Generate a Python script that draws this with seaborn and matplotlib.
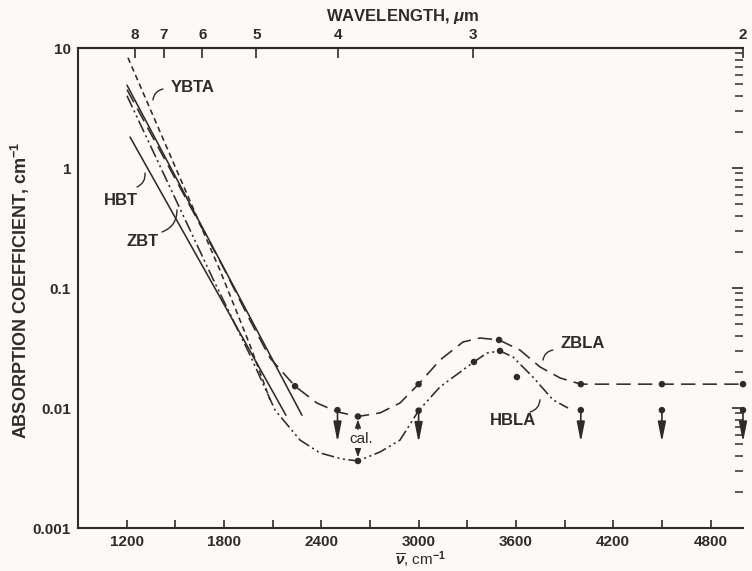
import numpy as np
import pandas as pd
import matplotlib
matplotlib.use("Agg")
import matplotlib.pyplot as plt
import seaborn as sns
from matplotlib.ticker import FixedLocator, FixedFormatter, NullFormatter

# ---- absorption coefficient (cm^-1) versus wavenumber (cm^-1) ----
ybta_nu = [1208, 1775, 1960, 2084]
ybta_k = [8.3, 0.141, 0.0335, 0.0117]

zbt_nu = [1202, 2281]
zbt_k = [4.9, 0.0087]

hbt_nu = [1221, 1775, 2182]
hbt_k = [1.81, 0.084, 0.0087]

zbla_nu = [1202, 1794, 1960, 2084, 2238, 2373, 2497, 2626, 2762, 2885, 3000,
           3132, 3274, 3378, 3496, 3625, 3748, 3872, 4000, 4500, 5000]
zbla_k = [4.5, 0.150, 0.054, 0.0261, 0.0152, 0.0110, 0.0093, 0.0085, 0.0091,
          0.0110, 0.0158, 0.0251, 0.0355, 0.0383, 0.0369, 0.0304, 0.0220,
          0.0178, 0.0158, 0.0158, 0.0158]

hbla_nu = [1202, 1726, 1960, 2115, 2269, 2392, 2528, 2626, 2762, 2885, 3000,
           3132, 3341, 3421, 3502, 3582, 3705, 3828, 3921]
hbla_k = [4.0, 0.124, 0.0277, 0.0096, 0.0054, 0.00422, 0.00376, 0.00362,
          0.0043, 0.0054, 0.0095, 0.0150, 0.0242, 0.0287, 0.0299, 0.0266,
          0.0181, 0.0117, 0.0100]

# measured points
zbla_pt_nu = [2238, 2626, 3000, 3496, 4000, 4500, 5000]
zbla_pt_k = [0.0152, 0.0085, 0.0158, 0.0369, 0.0158, 0.0158, 0.0158]
hbla_pt_nu = [2626, 3341, 3502, 3606]
hbla_pt_k = [0.00362, 0.0242, 0.0299, 0.0181]
# upper limits (arrows pointing down)
limit_nu = [2500, 3000, 4000, 4500, 5000]
limit_k = [0.0096, 0.0095, 0.0096, 0.0096, 0.0096]

# axis ticks
nu_ticks = [1200, 1500, 1800, 2100, 2400, 2700, 3000, 3300, 3600, 3900, 4200, 4500, 4800]
nu_labels = [1200, 1800, 2400, 3000, 3600, 4200, 4800]
k_ticks = [0.001, 0.01, 0.1, 1, 10]
k_labels = ["0.001", "0.01", "0.1", "1", "10"]
wavelengths = [8, 7, 6, 5, 4, 3, 2]

ink = "#2d2c2a"
paper = "#fbfaf6"

sns.set_theme(style="white", rc={"axes.facecolor": paper, "figure.facecolor": paper})
plt.rcParams["font.family"] = ["Liberation Sans", "DejaVu Sans"]
plt.rcParams["mathtext.fontset"] = "custom"
plt.rcParams["mathtext.rm"] = "Liberation Sans:bold"
plt.rcParams["mathtext.it"] = "Liberation Sans:italic:bold"
plt.rcParams["mathtext.bf"] = "Liberation Sans:bold"

fig = plt.figure(figsize=(7.52, 5.71), dpi=100)
ax = fig.add_axes([78 / 752, 43 / 571, 665 / 752, 480 / 571])

curves = [
    (ybta_nu, ybta_k, (0, (3.5, 2.4))),
    (zbt_nu, zbt_k, "-"),
    (hbt_nu, hbt_k, "-"),
    (zbla_nu, zbla_k, (0, (9, 4.5))),
    (hbla_nu, hbla_k, (0, (8, 2.2, 1.3, 2.2, 1.3, 2.2))),
]
for nu, k, ls in curves:
    df = pd.DataFrame({"nu": nu, "k": k})
    sns.lineplot(data=df, x="nu", y="k", ax=ax, sort=False, estimator=None,
                 color=ink, linewidth=1.15, linestyle=ls)

pts = pd.DataFrame({"nu": zbla_pt_nu + hbla_pt_nu + limit_nu,
                    "k": zbla_pt_k + hbla_pt_k + limit_k})
sns.scatterplot(data=pts, x="nu", y="k", ax=ax, color=ink, s=22,
                edgecolor="none", zorder=5, clip_on=False)

for nu, k in zip(limit_nu, limit_k):
    ax.annotate("", xy=(nu, k), xycoords="data", xytext=(0, -23),
                textcoords="offset points",
                arrowprops=dict(arrowstyle="<|-,head_length=1.0,head_width=0.2",
                                color=ink, lw=1.2, shrinkA=0, shrinkB=0),
                annotation_clip=False)

ax.set_yscale("log")
ax.set_xlim(900, 5000)
ax.set_ylim(0.001, 10)

ax.xaxis.set_major_locator(FixedLocator(nu_labels))
ax.xaxis.set_minor_locator(FixedLocator([t for t in nu_ticks if t not in nu_labels]))
ax.xaxis.set_minor_formatter(NullFormatter())
ax.yaxis.set_major_locator(FixedLocator(k_ticks))
ax.yaxis.set_major_formatter(FixedFormatter(k_labels))
minor_k = [m * 10.0 ** e for e in range(-3, 1) for m in range(2, 10)]
ax.yaxis.set_minor_locator(FixedLocator(minor_k))
ax.yaxis.set_minor_formatter(NullFormatter())

ax.tick_params(axis="x", which="both", direction="in", length=6, width=1.2,
               colors=ink, labelsize=11, pad=5, top=False)
ax.tick_params(axis="y", which="major", direction="in", length=8, width=1.2,
               colors=ink, labelsize=11, pad=5, right=True)
ax.tick_params(axis="y", which="minor", direction="in", length=6, width=1.1,
               colors=ink, right=True)
for lab in ax.get_xticklabels() + ax.get_yticklabels():
    lab.set_fontweight("bold")

for side in ["left", "bottom", "top"]:
    ax.spines[side].set_color(ink)
    ax.spines[side].set_linewidth(1.5)
ax.spines["right"].set_visible(False)
ax.set_xlabel("")
ax.set_ylabel("")

# wavelength scale along the top
top = ax.twiny()
top.set_xlim(ax.get_xlim())
top.set_xticks([1e4 / w for w in wavelengths])
top.set_xticklabels([str(w) for w in wavelengths], fontweight="bold")
top.tick_params(axis="x", direction="in", length=7, width=1.2, colors=ink,
                labelsize=11, pad=4)
for side in ["left", "bottom", "right"]:
    top.spines[side].set_visible(False)
top.spines["top"].set_color(ink)
top.spines["top"].set_linewidth(1.5)
top.grid(False)

# curve labels with short leaders
lab_kw = dict(fontsize=12, fontweight="bold", color=ink, ha="center", va="center")
ax.text(1609, 4.73, "YBTA", **lab_kw)
ax.text(1165, 0.541, "HBT", **lab_kw)
ax.text(1301, 0.242, "ZBT", **lab_kw)
ax.text(4013, 0.0348, "ZBLA", **lab_kw)
ax.text(3582, 0.00794, "HBLA", **lab_kw)
ax.text(2645, 0.0055, "cal.", fontsize=11, color=ink, ha="center", va="center")

leader = dict(arrowstyle="-", color=ink, lw=1.0, shrinkA=0, shrinkB=0,
              connectionstyle="arc3,rad=0.35")
for (x0, y0), (x1, y1) in [((1424, 4.55), (1362, 3.69)),
                           ((1264, 0.695), (1313, 0.908)),
                           ((1418, 0.293), (1510, 0.447)),
                           ((3828, 0.0304), (3767, 0.0251)),
                           ((3687, 0.00926), (3748, 0.0117))]:
    ax.annotate("", xy=(x1, y1), xytext=(x0, y0), arrowprops=leader)

small = dict(arrowstyle="-|>,head_length=0.4,head_width=0.15", color=ink,
             lw=0.9, shrinkA=0, shrinkB=0)
ax.annotate("", xy=(2626, 0.0080), xytext=(2626, 0.0066), arrowprops=small)
ax.annotate("", xy=(2626, 0.0039), xytext=(2626, 0.0046), arrowprops=small)

# axis titles
fig.text(20 / 752, 1 - 290 / 571, "ABSORPTION COEFFICIENT, cm$^{-1}$",
         rotation=90, ha="center", va="center", fontsize=13,
         fontweight="bold", color=ink)
fig.text(421 / 752, 1 - 560 / 571, r"$\overline{\nu}$, cm$^{-1}$",
         ha="center", va="center", fontsize=11, color=ink)
fig.text(403 / 752, 1 - 17 / 571, r"WAVELENGTH, $\mu$m",
         ha="center", va="center", fontsize=12, fontweight="bold", color=ink)

fig.savefig("out.png", dpi=100, facecolor=paper)
